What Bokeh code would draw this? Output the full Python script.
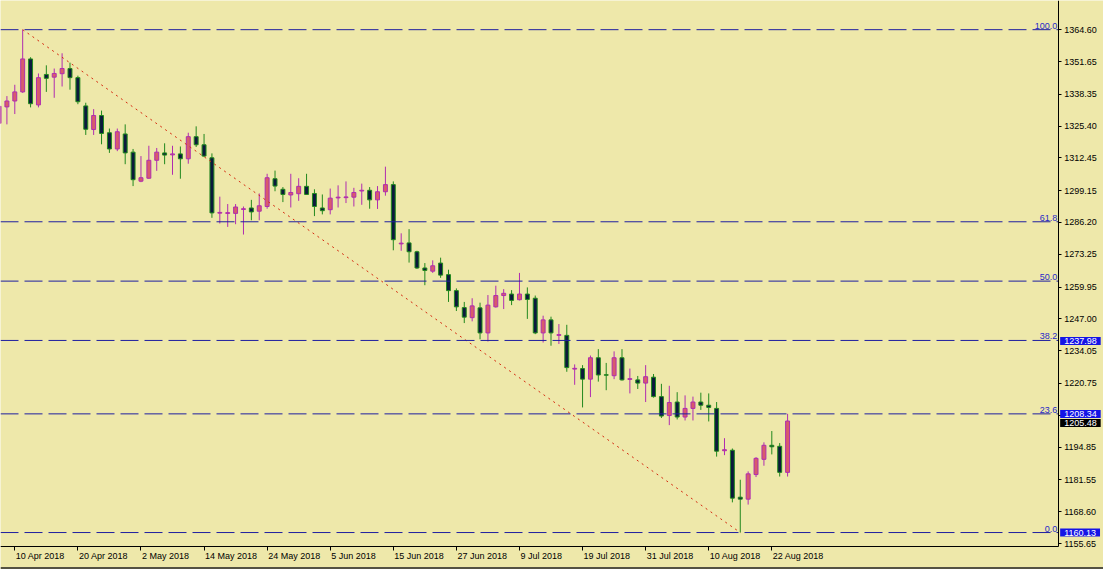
import pandas as pd
from bokeh.plotting import figure
from bokeh.models import (Range1d, FixedTicker, Label, Span, ColumnDataSource,
                          NumeralTickFormatter, LinearAxis)
from bokeh.embed import file_html
from bokeh.resources import INLINE

# ---------------- data (XAUUSD daily) ----------------
dates = [d.strftime("%Y-%m-%d") for d in pd.bdate_range("2018-04-06", "2018-08-24")]

opens = [1326.5, 1333.2, 1335.6, 1339.3, 1352.7, 1334.0, 1346.4, 1345.3, 1346.7, 1348.8,
         1345.1, 1333.6, 1324.0, 1329.7, 1322.7, 1316.1, 1322.2, 1314.8, 1303.0, 1304.2,
         1311.5, 1314.5, 1313.7, 1314.1, 1312.1, 1321.1, 1317.8, 1312.5, 1290.0, 1289.9,
         1289.9, 1291.5, 1292.1, 1290.8, 1292.7, 1304.0, 1299.7, 1297.4, 1297.9, 1300.9,
         1298.0, 1292.1, 1291.4, 1296.2, 1296.3, 1296.5, 1299.0, 1299.3, 1295.4, 1298.7,
         1301.6, 1277.5, 1277.9, 1274.3, 1267.7, 1266.4, 1269.7, 1265.0, 1258.5, 1251.6,
         1247.5, 1251.5, 1241.3, 1251.9, 1256.5, 1257.1, 1254.8, 1257.1, 1255.4, 1241.3,
         1246.6, 1240.3, 1240.3, 1226.6, 1226.8, 1222.5, 1231.2, 1224.3, 1223.9, 1231.2,
         1222.4, 1222.2, 1220.9, 1223.3, 1215.4, 1207.7, 1213.2, 1207.1, 1210.6, 1213.2,
         1211.9, 1210.6, 1193.4, 1193.6, 1174.5, 1173.7, 1183.7, 1189.9, 1195.6, 1195.2,
         1184.6]
highs = [1335.5, 1337.6, 1342.2, 1364.6, 1353.4, 1346.8, 1350.1, 1348.8, 1355.0, 1351.2,
         1345.9, 1334.9, 1332.3, 1331.7, 1324.4, 1324.4, 1326.1, 1316.1, 1313.2, 1317.4,
         1316.5, 1318.4, 1317.4, 1317.1, 1322.7, 1325.3, 1322.2, 1314.3, 1296.7, 1293.7,
         1293.7, 1292.7, 1295.4, 1298.0, 1306.0, 1307.3, 1300.6, 1306.0, 1304.2, 1306.0,
         1299.7, 1297.6, 1300.0, 1301.3, 1302.9, 1300.3, 1302.0, 1300.6, 1301.0, 1308.9,
         1302.9, 1281.8, 1283.5, 1274.7, 1269.7, 1270.8, 1271.9, 1267.0, 1259.4, 1253.9,
         1255.4, 1253.6, 1256.7, 1260.5, 1259.1, 1258.7, 1265.7, 1259.8, 1256.5, 1248.3,
         1247.9, 1244.9, 1244.6, 1228.5, 1228.2, 1232.1, 1234.7, 1229.1, 1233.8, 1234.7,
         1226.8, 1223.8, 1228.2, 1224.6, 1220.6, 1219.8, 1217.2, 1215.9, 1215.4, 1217.0,
         1216.7, 1213.2, 1198.5, 1194.3, 1181.6, 1185.0, 1190.8, 1196.8, 1201.4, 1196.5,
         1208.4]
lows = [1325.5, 1326.1, 1330.3, 1338.9, 1333.0, 1333.0, 1339.3, 1336.9, 1341.5, 1340.2,
        1334.3, 1321.8, 1321.8, 1318.0, 1314.5, 1315.2, 1309.9, 1301.0, 1302.6, 1304.0,
        1307.2, 1309.9, 1305.6, 1304.0, 1310.1, 1316.9, 1312.8, 1288.1, 1285.8, 1284.4,
        1285.5, 1281.3, 1287.1, 1287.1, 1291.8, 1298.9, 1294.5, 1292.3, 1295.0, 1297.4,
        1288.8, 1289.5, 1289.5, 1292.3, 1294.1, 1292.7, 1293.4, 1291.8, 1291.7, 1297.1,
        1274.9, 1274.7, 1269.9, 1267.3, 1260.7, 1265.7, 1263.7, 1253.9, 1250.2, 1245.3,
        1246.0, 1238.7, 1237.8, 1251.6, 1251.0, 1252.6, 1254.5, 1247.0, 1240.8, 1237.4,
        1236.1, 1236.8, 1225.5, 1220.2, 1211.0, 1215.2, 1221.5, 1218.0, 1222.5, 1221.9,
        1216.7, 1218.5, 1213.2, 1215.0, 1206.7, 1203.8, 1206.1, 1205.7, 1205.7, 1210.0,
        1205.3, 1191.0, 1191.6, 1172.4, 1160.13, 1171.5, 1182.7, 1187.3, 1191.9, 1182.9,
        1182.9]
closes = [1333.5, 1335.6, 1339.3, 1352.7, 1334.5, 1345.1, 1344.8, 1346.8, 1348.8, 1345.1,
          1335.3, 1324.1, 1329.7, 1322.4, 1316.1, 1323.1, 1314.5, 1303.6, 1304.4, 1311.5,
          1314.8, 1313.6, 1314.1, 1312.1, 1321.1, 1317.8, 1313.2, 1290.1, 1290.3, 1290.2,
          1292.5, 1291.8, 1290.5, 1293.0, 1304.4, 1301.0, 1297.6, 1298.4, 1300.9, 1297.6,
          1292.7, 1291.0, 1296.1, 1296.5, 1296.6, 1298.4, 1299.3, 1295.4, 1298.7, 1301.6,
          1279.2, 1277.8, 1274.3, 1267.7, 1266.7, 1268.6, 1264.8, 1258.5, 1251.9, 1247.7,
          1252.3, 1241.3, 1252.6, 1256.5, 1257.4, 1254.5, 1257.1, 1254.9, 1241.3, 1246.6,
          1241.3, 1240.6, 1227.2, 1226.9, 1222.5, 1231.2, 1224.2, 1224.1, 1231.2, 1222.2,
          1222.7, 1220.9, 1223.5, 1215.4, 1207.5, 1213.0, 1207.1, 1210.6, 1213.2, 1211.9,
          1211.0, 1193.2, 1193.8, 1174.1, 1173.7, 1184.0, 1190.3, 1195.6, 1195.0, 1184.6,
          1205.48]

price_ticks = [1364.60, 1351.65, 1338.35, 1325.40, 1312.45, 1299.15, 1286.20, 1273.25,
               1259.95, 1247.00, 1234.05, 1220.75, 1207.80, 1194.85, 1181.55, 1168.60, 1155.65]

date_label_days = ["2018-04-10", "2018-04-20", "2018-05-02", "2018-05-14", "2018-05-24",
                   "2018-06-05", "2018-06-15", "2018-06-27", "2018-07-09", "2018-07-19",
                   "2018-07-31", "2018-08-10", "2018-08-22"]
date_label_texts = ["10 Apr 2018", "20 Apr 2018", "2 May 2018", "14 May 2018", "24 May 2018",
                    "5 Jun 2018", "15 Jun 2018", "27 Jun 2018", "9 Jul 2018", "19 Jul 2018",
                    "31 Jul 2018", "10 Aug 2018", "22 Aug 2018"]

fib_high = 1364.60
fib_low = 1160.13
fib_levels = [100.0, 61.8, 50.0, 38.2, 23.6, 0.0]
fib_texts = ["100.0", "61.8", "50.0", "38.2", "23.6", "0.0"]

marker_prices = [1237.98, 1208.34, 1160.13]
marker_texts = ["1237.98", "1208.34", "1160.13"]
bid_price = 1205.48

# ---------------- styles / layout ----------------
BG = "#EEE8AA"
BULL_FILL, BULL_LINE = "#D75C6B", "#B02CB0"
BEAR_FILL, BEAR_LINE = "#0B1A3C", "#22881E"
FIB_COLOR = "#1E1EA0"
TREND_COLOR = "#D42A10"
FONT = "Liberation Sans"

REF_W, REF_H = 1119, 585          # layout designed in these units
W, H = 1103, 569                  # what fits the window next to the 8px margin
SY = H / REF_H
BAR_PX = 8.0                       # bar spacing in design units
AXIS_X_PX, AXIS_Y_PX = 1073, 561   # price axis / time axis positions (design units)

px_per_price = (547 - 30) / (fib_high - fib_low)   # fib 100 at 30, fib 0 at 547
y_top = fib_high + 30 / px_per_price
y_bot = fib_high - (REF_H - 30) / px_per_price
y_axis_loc = fib_high - (AXIS_Y_PX - 30) / px_per_price
x_start = 1.5 / BAR_PX
x_end = x_start + REF_W / BAR_PX
x_axis_loc = x_start + AXIS_X_PX / BAR_PX

idx = list(range(len(dates)))
is_bull = [c >= o for o, c in zip(opens, closes)]
src = ColumnDataSource(dict(
    x=idx, o=opens, h=highs, l=lows, c=closes,
    top=[max(o, c) for o, c in zip(opens, closes)],
    bot=[min(o, c) for o, c in zip(opens, closes)],
    fill=[BULL_FILL if b else BEAR_FILL for b in is_bull],
    line=[BULL_LINE if b else BEAR_LINE for b in is_bull],
))

p = figure(width=W, height=H, output_backend="svg", toolbar_location=None,
           x_range=Range1d(x_start, x_end), y_range=Range1d(y_bot, y_top),
           x_axis_location=None, y_axis_location=None,
           min_border_left=0, min_border_top=0, min_border_right=0, min_border_bottom=0)
p.background_fill_color = BG
p.border_fill_color = BG
p.outline_line_color = None
p.grid.visible = False

# price axis (right) and time axis (below), pinned at their positions
ya = LinearAxis(fixed_location=x_axis_loc, bounds=(y_axis_loc, y_top))
ya.ticker = FixedTicker(ticks=price_ticks)
ya.formatter = NumeralTickFormatter(format="0.00")
ya.axis_line_color = "black"
ya.major_tick_line_color = "black"
ya.major_tick_out = 3
ya.major_tick_in = 0
ya.minor_tick_line_color = None
ya.major_label_standoff = 3
ya.major_label_text_font = FONT
ya.major_label_text_font_size = "9px"
ya.major_label_text_color = "black"
p.add_layout(ya, "right")

date_pos = [dates.index(d) for d in date_label_days]
xa = LinearAxis(fixed_location=y_axis_loc, bounds=(x_start, x_axis_loc))
xa.ticker = FixedTicker(ticks=date_pos)
xa.axis_line_color = "black"
xa.major_tick_line_color = "black"
xa.major_tick_out = 4
xa.major_tick_in = 0
xa.minor_tick_line_color = None
xa.major_label_text_font_size = "0px"
xa.major_label_text_color = None
p.add_layout(xa, "below")

for pos, txt in zip(date_pos, date_label_texts):
    p.add_layout(Label(x=pos, y=y_axis_loc, y_offset=-10.5 * SY, x_offset=1, text=txt,
                       text_align="left", text_baseline="middle",
                       text_font=FONT, text_font_size="9px", text_color="black"))

# window edge line at the bottom
p.add_layout(Span(location=fib_high - (REF_H - 1.5 - 30) / px_per_price, dimension="width",
                  line_color="#202020", line_width=1.5))

# candles
p.segment(x0="x", y0="l", x1="x", y1="h", line_color="line", line_width=1, source=src)
p.vbar(x="x", width=0.5, top="top", bottom="bot", fill_color="fill",
       line_color="line", line_width=1, source=src)

# trend line between the extreme bars
i_hi = highs.index(max(highs))
i_lo = lows.index(min(lows))
p.line(x=[i_hi, i_lo], y=[highs[i_hi], lows[i_lo]], line_color=TREND_COLOR,
       line_width=1, line_dash="2 4")

# fibonacci levels
fib_prices = [fib_low + (fib_high - fib_low) * lev / 100.0 for lev in fib_levels]
p.segment(x0=[x_start] * len(fib_prices), x1=[x_axis_loc] * len(fib_prices),
          y0=fib_prices, y1=fib_prices, line_color=FIB_COLOR, line_width=1, line_dash="18 6")
for price, txt in zip(fib_prices, fib_texts):
    p.add_layout(Label(x=x_axis_loc, y=price, x_offset=-1, y_offset=1, text=txt,
                       text_align="right", text_baseline="bottom",
                       text_font=FONT, text_font_size="9px", text_color="#2828C8"))


def marker(price, txt, bg, dy=0):
    lab = Label(x=x_axis_loc, y=price, x_offset=2, y_offset=dy, text=txt,
                text_align="left", text_baseline="middle", text_font=FONT,
                text_font_size="9px", text_color="white", background_fill_color=bg)
    try:
        lab.padding = dict(left=4, right=4, top=1, bottom=1)
    except Exception:
        lab.padding = 2
    p.add_layout(lab)


marker(bid_price, "%.2f" % bid_price, "black", dy=-2)
for pr, txt in zip(marker_prices, marker_texts):
    marker(pr, txt, "#1414E6")

open("out.html", "w").write(file_html(p, INLINE))
